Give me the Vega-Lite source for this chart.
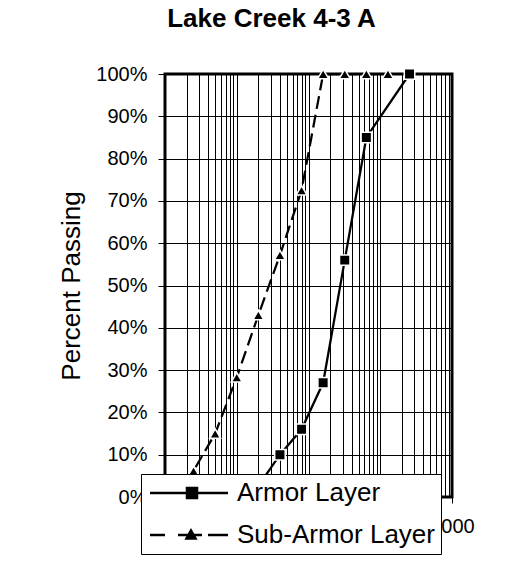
{
  "$schema": "https://vega.github.io/schema/vega-lite/v6.json",
  "width": 287,
  "height": 423,
  "autosize": {"type": "none"},
  "padding": {"left": 165, "top": 74, "right": 61, "bottom": 65},
  "background": "white",
  "title": {"text": "Lake Creek 4-3 A", "fontSize": 26, "font": "Liberation Sans", "fontWeight": "bold", "anchor": "middle", "frame": "group", "dx": -37, "baseline": "alphabetic", "offset": 11, "color": "black"},
  "config": {
    "font": "Liberation Sans",
    "view": {"stroke": "black", "strokeWidth": 3},
    "legend": {
      "orient": "none", "legendX": -24, "legendY": 400, "title": null,
      "fillColor": "white", "strokeColor": "black", "padding": 6,
      "labelFontSize": 26, "labelFont": "Liberation Sans", "labelColor": "black", "labelOffset": 64, "labelLimit": 0,
      "symbolSize": 400, "rowPadding": 16,
      "symbolStrokeColor": "black", "symbolFillColor": "black", "symbolStrokeWidth": 2.5, "symbolOpacity": 1
    }
  },
  "data": {"values": [
    {"layer": "Armor Layer", "size": 2, "passing": 0.026},
    {"layer": "Armor Layer", "size": 4, "passing": 0.10},
    {"layer": "Armor Layer", "size": 8, "passing": 0.16},
    {"layer": "Armor Layer", "size": 16, "passing": 0.27},
    {"layer": "Armor Layer", "size": 32, "passing": 0.56},
    {"layer": "Armor Layer", "size": 64, "passing": 0.85},
    {"layer": "Armor Layer", "size": 256, "passing": 1.0},
    {"layer": "Sub-Armor Layer", "size": 0.125, "passing": 0.0},
    {"layer": "Sub-Armor Layer", "size": 0.25, "passing": 0.062},
    {"layer": "Sub-Armor Layer", "size": 0.5, "passing": 0.15},
    {"layer": "Sub-Armor Layer", "size": 1, "passing": 0.283},
    {"layer": "Sub-Armor Layer", "size": 2, "passing": 0.43},
    {"layer": "Sub-Armor Layer", "size": 4, "passing": 0.572},
    {"layer": "Sub-Armor Layer", "size": 8, "passing": 0.725},
    {"layer": "Sub-Armor Layer", "size": 16, "passing": 1.0},
    {"layer": "Sub-Armor Layer", "size": 32, "passing": 1.0},
    {"layer": "Sub-Armor Layer", "size": 64, "passing": 1.0},
    {"layer": "Sub-Armor Layer", "size": 128, "passing": 1.0}
  ]},
  "encoding": {
    "x": {"field": "size", "type": "quantitative",
      "scale": {"type": "log", "domain": [0.1, 1000]},
      "axis": {"title": null, "values": [0.1,0.2,0.3,0.4,0.5,0.6,0.7,0.8,0.9,1,2,3,4,5,6,7,8,9,10,20,30,40,50,60,70,80,90,100,200,300,400,500,600,700,800,900,1000],
        "format": "~g", "labelExpr": "datum.value === 1000 ? datum.label : ''",
        "labelFontSize": 20, "labelColor": "black", "labelPadding": 13, "labelFlush": false, "labelOverlap": false,
        "tickSize": 6, "tickColor": "black", "tickOpacity": {"condition": {"test": "indexof([0.1,1,10,100,1000], datum.value) >= 0", "value": 1}, "value": 0},
        "domain": false, "grid": true, "gridColor": "black", "gridOpacity": 1, "gridWidth": 1}},
    "y": {"field": "passing", "type": "quantitative",
      "scale": {"domain": [0, 1]},
      "axis": {"title": "Percent Passing", "titleFontSize": 26, "titleFontWeight": "normal", "titleColor": "black", "titlePadding": 11,
        "values": [0,0.1,0.2,0.3,0.4,0.5,0.6,0.7,0.8,0.9,1], "format": ".0%",
        "labelFontSize": 20, "labelColor": "black", "labelPadding": 11,
        "tickSize": 7, "tickColor": "black", "domain": false,
        "grid": true, "gridColor": "black", "gridOpacity": 1, "gridWidth": 1}},
    "color": {"field": "layer", "type": "nominal",
      "scale": {"domain": ["Armor Layer", "Sub-Armor Layer"], "range": ["black", "black"]},
      "legend": {
        "encode": {"symbols": {"update": {
          "shape": {"signal": "datum.value === 'Armor Layer' ? 'M-1,0H6.8M2.7,-0.5H3.7V0.5H2.7Z' : 'M-1,0H0.5M1.8,0H4.2M4.8,0H6.8M3.1,-0.45L3.55,0.35H2.65Z'"},
          "fill": {"value": "black"},
          "stroke": {"value": "black"},
          "strokeWidth": {"value": 2.5}
        }}}
      }}
  },
  "layer": [
    {
      "transform": [{"filter": "datum.layer === 'Armor Layer'"}],
      "mark": {"type": "line", "strokeWidth": 2.25},
      "encoding": {"order": {"field": "size", "type": "quantitative"}}
    },
    {
      "transform": [{"filter": "datum.layer === 'Sub-Armor Layer'"}],
      "mark": {"type": "line", "strokeWidth": 2.25, "strokeDash": [13, 6]},
      "encoding": {"order": {"field": "size", "type": "quantitative"}}
    },
    {
      "transform": [{"filter": "datum.layer === 'Armor Layer'"}],
      "mark": {"type": "point", "shape": "square", "filled": true, "fill": "black", "stroke": "white", "strokeWidth": 1.5, "size": 110, "opacity": 1},
      "encoding": {"color": {"value": "black"}}
    },
    {
      "transform": [{"filter": "datum.layer === 'Sub-Armor Layer'"}],
      "mark": {"type": "point", "shape": "triangle-up", "filled": true, "fill": "black", "stroke": "white", "strokeWidth": 1.5, "size": 120, "opacity": 1},
      "encoding": {"color": {"value": "black"}}
    }
  ]
}
